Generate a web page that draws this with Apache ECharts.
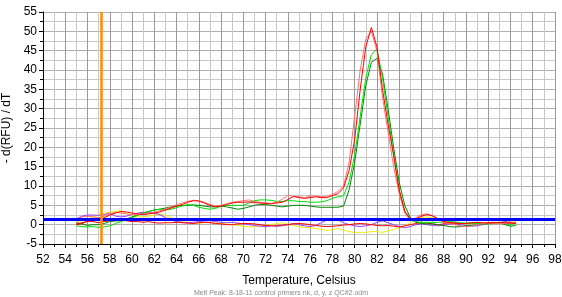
<!DOCTYPE html>
<html>
<head>
<meta charset="utf-8">
<title>Melt Peak</title>
<style>
  html, body { margin: 0; padding: 0; background: #fff; }
  #chart { width: 562px; height: 297px; }
</style>
</head>
<body>
<div id="chart"></div>
<script src="https://cdn.jsdelivr.net/npm/echarts@6/dist/echarts.min.js"></script>
<script>
// temperatures, 55 .. 94.5 step 0.5
var temps = [
  55, 55.5, 56, 56.5, 57, 57.5, 58, 58.5, 59, 59.5,
  60, 60.5, 61, 61.5, 62, 62.5, 63, 63.5, 64, 64.5,
  65, 65.5, 66, 66.5, 67, 67.5, 68, 68.5, 69, 69.5,
  70, 70.5, 71, 71.5, 72, 72.5, 73, 73.5, 74, 74.5,
  75, 75.5, 76, 76.5, 77, 77.5, 78, 78.5, 79, 79.5,
  80, 80.5, 81, 81.5, 82, 82.5, 83, 83.5, 84, 84.5,
  85, 85.5, 86, 86.5, 87, 87.5, 88, 88.5, 89, 89.5,
  90, 90.5, 91, 91.5, 92, 92.5, 93, 93.5, 94, 94.5
];

var redHigh = [
  0.2, 0.5, 0.8, 1.0, 1.2, 1.8, 2.5, 3.0, 3.4, 3.3,
  3.0, 2.8, 2.6, 2.8, 3.0, 3.3, 3.8, 4.3, 4.8, 5.2,
  5.8, 6.2, 6.1, 5.6, 5.0, 4.6, 4.8, 5.2, 5.6, 5.8,
  5.8, 5.9, 5.7, 5.6, 5.5, 5.4, 5.6, 5.8, 6.5, 7.3,
  7.0, 6.8, 7.0, 7.2, 7.0, 7.0, 7.5, 8.0, 9.5, 14,
  22, 35, 46, 51, 46, 35, 26, 18, 9, 3.5,
  1.5, 1.5, 2.2, 2.6, 2.3, 1.5, 0.8, 0.5, 0.4, 0.3,
  0.3, 0.5, 0.6, 0.5, 0.4, 0.5, 0.6, 0.5, 0.4, 0.3
];

var pinkHigh = [
  1.5, 2.0, 2.2, 2.0, 1.8, 2.2, 2.8, 3.2, 3.0, 2.8,
  2.6, 2.6, 2.8, 3.0, 3.2, 3.6, 4.0, 4.6, 5.2, 5.6,
  6.0, 6.3, 6.2, 5.8, 5.2, 4.8, 5.0, 5.4, 5.8, 6.0,
  6.2, 6.4, 6.0, 5.8, 5.6, 5.5, 5.8, 6.6, 7.6, 7.4,
  7.2, 7.0, 7.4, 7.4, 7.2, 7.4, 7.8, 8.6, 10, 16,
  28, 40, 48, 50, 45, 33, 24, 15, 8, 3,
  1.2, 1.8, 2.6, 2.8, 2.2, 1.4, 0.6, 0.2, 0.0, -0.3,
  -0.5, -0.4, 0.0, 0.3, 0.4, 0.3, 0.2, 0.3, 0.4, 0.5
];

var greenHigh = [
  -0.3, -0.5, -0.6, -0.5, -0.7, -0.6, -0.3, 0.3, 0.8, 1.2,
  1.8, 2.4, 3.0, 3.4, 3.8, 4.0, 3.8, 4.0, 4.4, 4.8,
  5.2, 5.0, 4.5, 4.2, 4.0, 4.2, 4.8, 5.0, 5.0, 5.0,
  5.0, 5.6, 6.2, 6.4, 6.4, 6.3, 6.0, 6.0, 6.2, 6.2,
  6.0, 6.0, 5.8, 5.8, 5.9, 6.2, 6.8, 7.2, 7.5, 11,
  18, 28, 38, 44, 45.5, 38, 28, 18, 9, 3.5,
  1.2, 0.8, 0.6, 0.6, 0.6, 0.6, 0.7, 0.8, 0.7, 0.5,
  0.4, 0.4, 0.3, 0.2, 0.2, 0.3, 0.4, 0.3, 0.0, -0.3
];

var darkGreen = [
  0.5, 0.2, -0.2, 0.0, 0.0, 0.3, 0.8, 1.0, 1.0, 1.5,
  2.0, 2.5, 3.0, 3.4, 3.8, 4.0, 4.3, 4.6, 4.8, 5.0,
  5.0, 5.1, 5.0, 4.8, 4.6, 4.6, 4.8, 4.6, 4.3, 4.0,
  4.2, 4.6, 5.0, 5.2, 5.2, 5.0, 4.8, 4.6, 4.8, 5.0,
  5.0, 5.0, 4.8, 4.6, 4.5, 4.5, 4.5, 4.5, 4.8, 9,
  16, 26, 36, 42, 43, 39, 30, 20, 11, 5,
  1.8, 0.6, 0.3, 0.2, 0.2, 0.0, -0.2, -0.5, -0.6, -0.5,
  -0.3, -0.2, 0.0, 0.2, 0.3, 0.4, 0.5, 0.0, -0.4, -0.2
];

var redLow = [
  0.0, 0.2, 1.0, 0.8, 0.5, 0.8, 1.0, 1.0, 1.2, 1.0,
  0.8, 0.8, 0.6, 0.8, 0.5, 0.4, 0.5, 0.5, 0.6, 0.5,
  0.4, 0.3, 0.5, 0.6, 0.5, 0.3, 0.2, 0.0, 0.0, 0.2,
  0.3, 0.3, 0.2, 0.0, -0.2, -0.3, -0.3, -0.1, 0.0, 0.2,
  0.3, 0.2, 0.0, -0.2, -0.4, -0.5, -0.4, -0.3, -0.1, 0.0,
  0.2, 0.3, 0.2, 0.0, -0.2, -0.3, -0.2, -0.4, -0.6, -0.3,
  0.0, 0.3, 0.5, 0.4, 0.2, 0.0, 0.2, 0.4, 0.5, 0.3,
  0.3, 0.4, 0.5, 0.3, 0.5, 0.6, 0.4, 0.3, 0.5, 0.4
];

var yellow = [
  0.8, 1.0, 1.5, 2.0, 2.5, 3.0, 3.2, 3.4, 3.6, 3.0,
  2.4, 2.0, 2.0, 2.2, 2.5, 2.8, 2.4, 1.8, 1.2, 0.8,
  0.5, 0.4, 0.4, 0.5, 0.6, 0.5, 0.3, 0.2, 0.0, -0.2,
  -0.4, -0.6, -0.5, -0.3, -0.2, 0.0, 0.3, 0.5, 0.2, -0.2,
  -0.5, -0.7, -0.8, -1.0, -1.2, -1.5, -1.3, -1.0, -1.4, -1.8,
  -2.0, -2.0, -2.0, -1.8, -1.8, -2.0, -1.6, -1.2, -0.8, -0.3,
  0.5, 1.2, 1.8, 2.0, 1.8, 1.5, 1.2, 0.8, 0.5, 0.3,
  0.2, 0.3, 0.4, 0.3, 0.2, 0.3, 0.5, 0.8, 1.0, 0.8
];

var purple = [
  1.5, 2.2, 2.5, 2.5, 2.4, 2.6, 3.0, 2.2, 2.0, 2.2,
  2.6, 3.0, 3.2, 3.2, 3.0, 2.6, 1.8, 1.2, 0.8, 0.6,
  0.5, 0.6, 0.8, 0.7, 0.6, 0.8, 0.6, 0.5, 0.6, 0.4,
  0.2, 0.0, -0.2, -0.4, -0.5, -0.3, -0.4, -0.3, 0.0, 0.3,
  0.0, -0.3, -0.5, -0.2, 0.5, 1.2, 1.6, 1.2, 0.5, 0.0,
  -0.3, -0.5, -0.3, 0.0, 0.6, 1.0, 0.5, 0.0, -0.5, -0.8,
  -0.5, 0.0, 0.2, 0.0, -0.2, -0.3, -0.1, 0.1, 0.2, 0.0,
  -0.2, -0.4, -0.3, 0.0, 0.2, 0.3, 0.5, 0.8, 0.6, 0.3
];

var threshold = 1.3;   // blue line
var cursorTemp = 57.2; // orange line

var footer = 'Melt Peak: 8-18-11 control primers nk, d, y, z QC#2.odm';

function pairs(vals) {
  var out = [];
  for (var i = 0; i < temps.length; i++) out.push([temps[i], vals[i]]);
  return out;
}

function curve(name, color, vals) {
  return {
    name: name,
    type: 'line',
    showSymbol: false,
    animation: false,
    lineStyle: { width: 1, color: color },
    data: pairs(vals)
  };
}

var myChart = echarts.init(document.getElementById('chart'));

var option = {
  backgroundColor: '#fff',
  animation: false,
  textStyle: { fontFamily: 'Liberation Sans' },
  title: {
    text: footer,
    left: 'center',
    top: 285,
    textStyle: { fontSize: 7, fontWeight: 'normal', color: '#8a8a8a' }
  },
  grid: { left: 43, right: 7, top: 12, bottom: 53, containLabel: false, outerBoundsMode: 'none' },
  xAxis: {
    type: 'value',
    min: 52,
    max: 98,
    interval: 2,
    name: 'Temperature, Celsius',
    nameLocation: 'middle',
    nameGap: 31,
    nameTextStyle: { fontSize: 12, color: '#000' },
    axisLine: { onZero: false, lineStyle: { color: '#000', width: 1 } },
    axisTick: { length: 4, lineStyle: { color: '#000' } },
    minorTick: { show: true, splitNumber: 2, length: 3, lineStyle: { color: '#000' } },
    axisLabel: { fontSize: 12, color: '#000', margin: 10 },
    splitLine: { lineStyle: { color: '#9a9a9a', width: 1 } },
    minorSplitLine: { show: true, lineStyle: { color: '#c8c8c8', width: 1 } }
  },
  yAxis: {
    type: 'value',
    min: -5,
    max: 55,
    interval: 5,
    name: '- d(RFU) / dT',
    nameLocation: 'middle',
    nameGap: 27,
    nameTextStyle: { fontSize: 12, color: '#000' },
    axisLine: { show: true, onZero: false, lineStyle: { color: '#000', width: 1 } },
    axisTick: { show: true, length: 4, lineStyle: { color: '#000' } },
    minorTick: { show: true, splitNumber: 2, length: 3, lineStyle: { color: '#000' } },
    axisLabel: { fontSize: 12, color: '#000', margin: 6 },
    splitLine: { lineStyle: { color: '#b0b0b0', width: 1 } },
    minorSplitLine: { show: true, lineStyle: { color: '#c8c8c8', width: 1 } }
  },
  series: [
    curve('yellow', '#f0f000', yellow),
    curve('purple', '#9b40ff', purple),
    curve('red low', '#ff0000', redLow),
    curve('dark green', '#008a00', darkGreen),
    curve('green', '#00e000', greenHigh),
    curve('pink', '#ff7070', pinkHigh),
    curve('red', '#ff0000', redHigh),
    {
      name: 'markers',
      type: 'line',
      data: [],
      silent: true,
      markLine: {
        symbol: 'none',
        silent: true,
        animation: false,
        label: { show: false },
        data: [
          { yAxis: threshold, lineStyle: { color: '#0000ff', width: 3, type: 'solid' } },
          { xAxis: cursorTemp, lineStyle: { color: '#ff8c00', width: 2.5, type: 'solid' } }
        ]
      }
    }
  ]
};

myChart.setOption(option);
</script>
</body>
</html>
